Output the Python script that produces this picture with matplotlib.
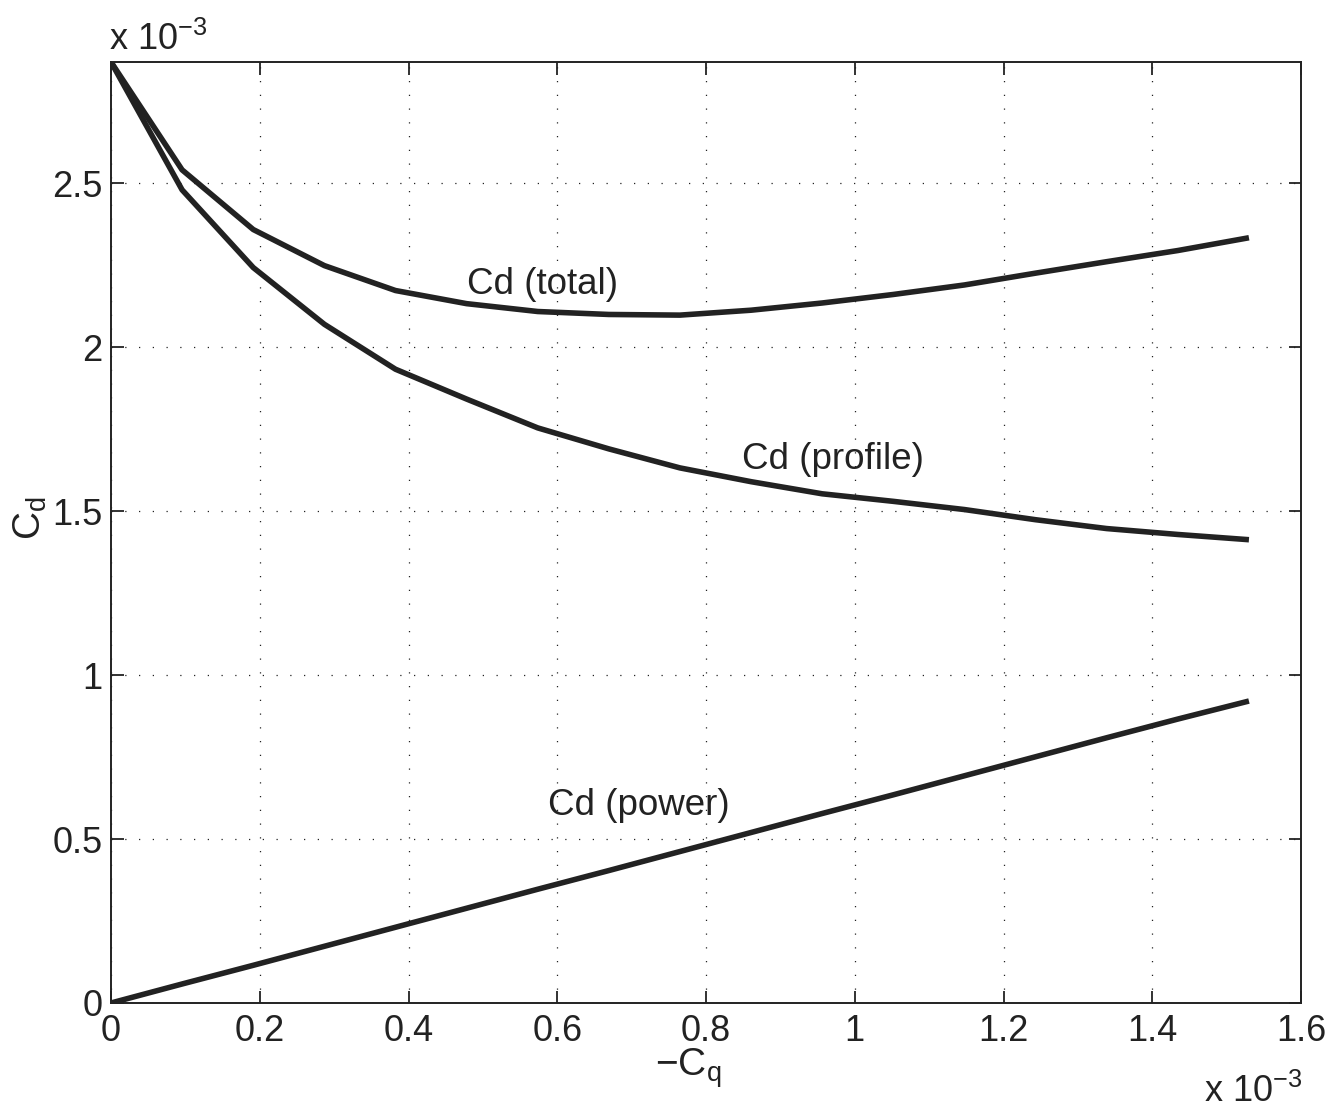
import matplotlib
matplotlib.use("Agg")
from matplotlib import pyplot as plt

# values, both axes in units of 1e-3
cq = [0.0, 0.0956, 0.1913, 0.2869, 0.3825, 0.4781, 0.5738, 0.6694, 0.7650,
      0.8606, 0.9563, 1.0519, 1.1475, 1.2431, 1.3388, 1.4344, 1.5300]
cd_total = [2.870, 2.541, 2.359, 2.249, 2.173, 2.133, 2.109, 2.100, 2.098,
            2.113, 2.135, 2.161, 2.190, 2.226, 2.261, 2.295, 2.334]
cd_profile = [2.870, 2.480, 2.243, 2.070, 1.933, 1.842, 1.754, 1.690, 1.632,
              1.590, 1.553, 1.530, 1.505, 1.474, 1.447, 1.429, 1.413]
cd_power = [0.0, 0.058, 0.115, 0.173, 0.231, 0.289, 0.347, 0.404, 0.462,
            0.520, 0.578, 0.635, 0.693, 0.751, 0.809, 0.866, 0.921]

labels = ["Cd (total)", "Cd (profile)", "Cd (power)"]
label_pos = [(0.479, 2.19), (0.848, 1.657), (0.587, 0.602)]

xticks = [0, 0.2, 0.4, 0.6, 0.8, 1, 1.2, 1.4, 1.6]
yticks = [0, 0.5, 1, 1.5, 2, 2.5]

plt.rcParams['font.family'] = ['Liberation Sans', 'DejaVu Sans']
plt.rcParams['mathtext.fontset'] = 'custom'
plt.rcParams['mathtext.rm'] = 'Liberation Sans'
plt.rcParams['mathtext.it'] = 'Liberation Sans'
plt.rcParams['mathtext.default'] = 'regular'

ink = '#222222'

fig = plt.figure(figsize=(13.44, 11.13), dpi=100)
ax = fig.add_axes([111 / 1344, 110 / 1113, 1190 / 1344, 941 / 1113])

for ys in (cd_total, cd_profile, cd_power):
    ax.plot(cq, ys, color=ink, lw=4.0, solid_capstyle='butt')

for txt, (x, y) in zip(labels, label_pos):
    ax.text(x, y, txt, fontsize=26.5, color=ink, ha='left', va='center')

ax.set_xlim(0, 1.6)
ax.set_ylim(0, max(cd_total))
ax.set_xticks(xticks)
ax.set_xticklabels(['0', '0.2', '0.4', '0.6', '0.8', '1', '1.2', '1.4', '1.6'])
ax.set_yticks(yticks)
ax.set_yticklabels(['0', '0.5', '1', '1.5', '2', '2.5'])
ax.tick_params(axis='both', direction='in', length=9, width=1.3, top=True,
               right=True, labelsize=26, colors=ink)
ax.tick_params(axis='x', pad=8)
ax.tick_params(axis='y', pad=6)
ax.grid(True, color=ink, linestyle=(0, (1, 10)), linewidth=0.9)
for s in ax.spines.values():
    s.set_linewidth(1.4)
    s.set_color(ink)

# axis labels and exponent markers
fig.text(30 / 1344, 1 - 518 / 1113, r'$C_d$', rotation=90, fontsize=28,
         color=ink, ha='center', va='center')
fig.text(688 / 1344, 1 - 1068 / 1113, r'$-C_q$', fontsize=28, color=ink,
         ha='center', va='center')
fig.text(109 / 1344, 1 - 50 / 1113, r'x 10$^{-3}$', fontsize=26, color=ink,
         ha='left', va='baseline')
fig.text(1302 / 1344, 1 - 1102 / 1113, r'x 10$^{-3}$', fontsize=26, color=ink,
         ha='right', va='baseline')

fig.savefig('out.png', dpi=100)
